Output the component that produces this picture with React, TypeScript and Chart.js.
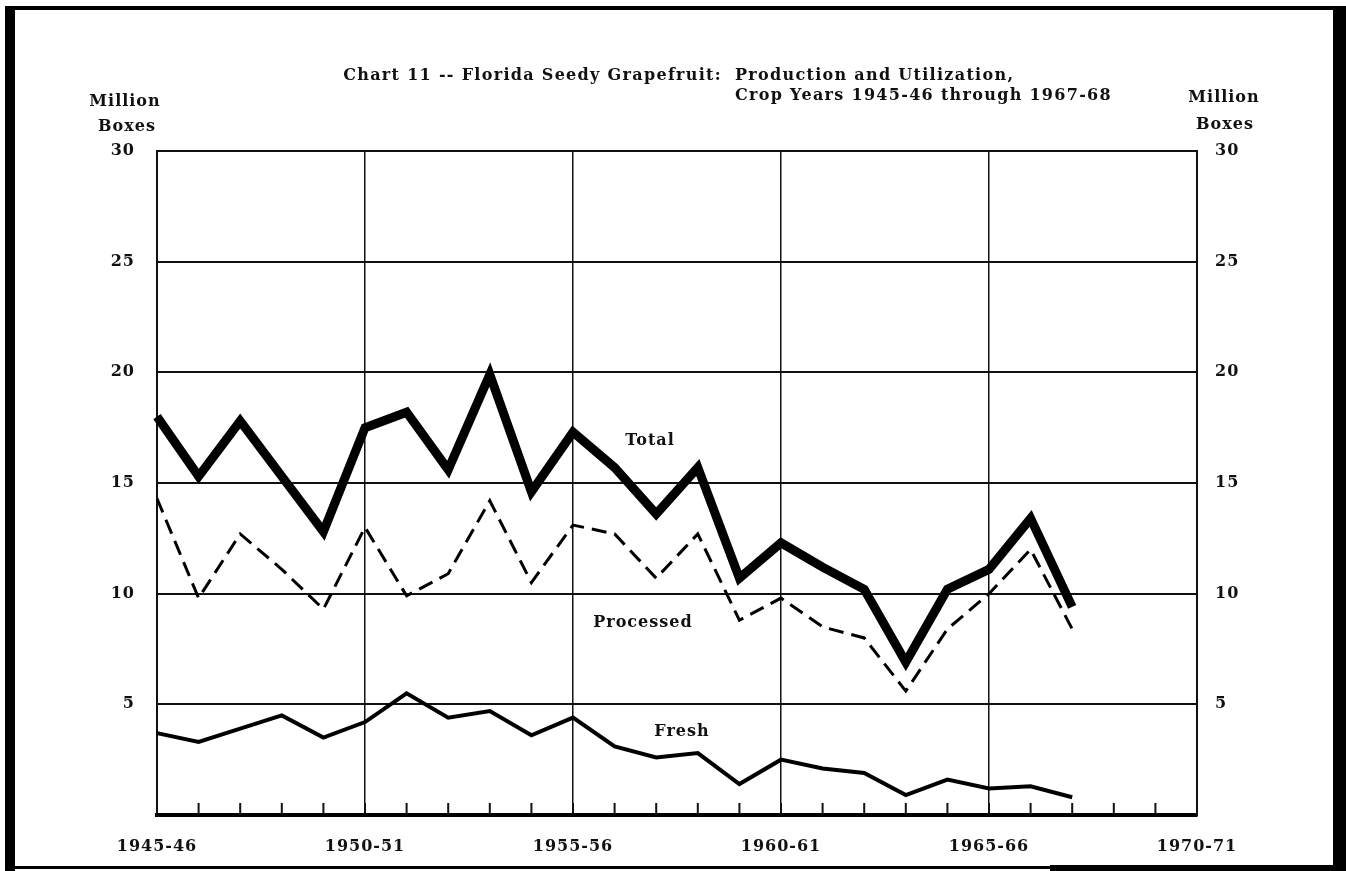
import { useEffect, useRef } from 'react';
import { Chart, registerables } from 'chart.js';

Chart.register(...registerables);

const FONT = '"DejaVu Serif", "Liberation Serif", serif';

const years = [
  '1945-46', '1946-47', '1947-48', '1948-49', '1949-50',
  '1950-51', '1951-52', '1952-53', '1953-54', '1954-55',
  '1955-56', '1956-57', '1957-58', '1958-59', '1959-60',
  '1960-61', '1961-62', '1962-63', '1963-64', '1964-65',
  '1965-66', '1966-67', '1967-68', '1968-69', '1969-70',
  '1970-71',
];

const totalValues = [18.0, 15.3, 17.8, 15.3, 12.8, 17.5, 18.2, 15.6, 19.9, 14.6, 17.3, 15.7, 13.6, 15.7, 10.7, 12.3, 11.2, 10.2, 6.9, 10.2, 11.1, 13.4, 9.4];
const processedValues = [14.3, 9.8, 12.7, 11.1, 9.3, 13.0, 9.9, 10.9, 14.2, 10.5, 13.1, 12.7, 10.7, 12.7, 8.8, 9.8, 8.5, 8.0, 5.6, 8.4, 10.0, 12.0, 8.4];
const freshValues = [3.7, 3.3, 3.9, 4.5, 3.5, 4.2, 5.5, 4.4, 4.7, 3.6, 4.4, 3.1, 2.6, 2.8, 1.4, 2.5, 2.1, 1.9, 0.9, 1.6, 1.2, 1.3, 0.8];

const yTicks = [5, 10, 15, 20, 25, 30];

const titleLine1a = 'Chart 11 -- Florida Seedy Grapefruit:';
const titleLine1b = 'Production and Utilization,';
const titleLine2 = 'Crop Years 1945-46 through 1967-68';

const seriesLabels = [
  { text: 'Total', x: 11.85, y: 16.9 },
  { text: 'Processed', x: 11.68, y: 8.68 },
  { text: 'Fresh', x: 12.62, y: 3.75 },
];

const INK = '#111';

export default function App() {
  const ref = useRef<HTMLCanvasElement>(null);

  useEffect(() => {
    const canvas = ref.current!;

    const spacingPlugin = {
      id: 'spacing',
      beforeDraw(chart: any) {
        chart.ctx.letterSpacing = '1px';
      },
    };

    const decorPlugin = {
      id: 'decor',
      afterDraw(chart: any) {
        const ctx = chart.ctx as CanvasRenderingContext2D;
        const xs = chart.scales.x;
        const ys = chart.scales.y;
        const area = chart.chartArea;
        ctx.save();
        // inner tick marks
        ctx.strokeStyle = INK;
        ctx.lineWidth = 2;
        for (let i = 0; i < years.length; i++) {
          const px = xs.getPixelForValue(i);
          ctx.beginPath();
          ctx.moveTo(px, area.bottom);
          ctx.lineTo(px, area.bottom - 12);
          ctx.stroke();
        }
        // texts
        ctx.fillStyle = INK;
        (ctx as any).letterSpacing = '1.3px';
        ctx.font = `bold 16px ${FONT}`;
        ctx.textBaseline = 'middle';
        ctx.textAlign = 'right';
        ctx.fillText(titleLine1a, 722, 76);
        ctx.textAlign = 'left';
        ctx.fillText(titleLine1b, 735, 76);
        ctx.fillText(titleLine2, 735, 96);
        (ctx as any).letterSpacing = '1px';
        ctx.textAlign = 'center';
        ctx.fillText('Million', 125, 102);
        ctx.fillText('Boxes', 127, 127);
        ctx.fillText('Million', 1224, 98);
        ctx.fillText('Boxes', 1225, 125);
        for (const l of seriesLabels) {
          ctx.fillText(l.text, xs.getPixelForValue(l.x), ys.getPixelForValue(l.y));
        }
        // frame
        ctx.fillStyle = '#000';
        ctx.fillRect(5, 6, 10, 865);
        ctx.fillRect(5, 6, 1341, 4);
        ctx.fillRect(1333, 6, 13, 865);
        ctx.fillRect(5, 866, 1341, 3);
        ctx.fillRect(1050, 865, 296, 6);
        ctx.restore();
      },
    };

    const tickFont = { family: FONT, size: 16, weight: 'bold' };

    const chart = new Chart(canvas, {
      type: 'line',
      data: {
        labels: years,
        datasets: [
          {
            label: 'Total',
            data: totalValues,
            borderColor: '#000',
            borderWidth: 9,
            pointRadius: 0,
            tension: 0,
            borderJoinStyle: 'miter',
            fill: false,
          },
          {
            label: 'Processed',
            data: processedValues,
            borderColor: '#000',
            borderWidth: 3,
            borderDash: [15, 8],
            pointRadius: 0,
            tension: 0,
            fill: false,
          },
          {
            label: 'Fresh',
            data: freshValues,
            borderColor: '#000',
            borderWidth: 4,
            pointRadius: 0,
            tension: 0,
            borderJoinStyle: 'miter',
            fill: false,
          },
        ],
      },
      options: {
        responsive: false,
        animation: false,
        devicePixelRatio: 1,
        layout: { padding: { top: 151, left: 0, right: 0, bottom: 0 } },
        plugins: {
          legend: { display: false },
          tooltip: { enabled: false },
          title: { display: false },
        },
        scales: {
          x: {
            type: 'category',
            offset: false,
            grid: {
              color: (c: any) => (c.index % 5 === 0 ? INK : 'rgba(0,0,0,0)'),
              lineWidth: 1.5,
              drawTicks: false,
            },
            border: { display: true, color: '#000', width: 4 },
            ticks: {
              autoSkip: false,
              maxRotation: 0,
              minRotation: 0,
              padding: 22,
              font: tickFont,
              color: INK,
              callback: (_v: any, i: number) => (i % 5 === 0 ? years[i] : ''),
            },
            afterFit: (s: any) => { s.height = 56; },
          },
          y: {
            position: 'left',
            min: 0,
            max: 30,
            afterBuildTicks: (s: any) => { s.ticks = [0, ...yTicks].map((v) => ({ value: v })); },
            ticks: {
              padding: 22,
              font: tickFont,
              color: INK,
              callback: (v: any) => (v === 0 ? '' : String(v)),
            },
            grid: { color: INK, lineWidth: 2, drawTicks: false },
            border: { color: INK, width: 2 },
            afterFit: (s: any) => { s.width = 157; },
          },
          y2: {
            position: 'right',
            min: 0,
            max: 30,
            afterBuildTicks: (s: any) => { s.ticks = [0, ...yTicks].map((v) => ({ value: v })); },
            ticks: {
              padding: 18,
              font: tickFont,
              color: INK,
              callback: (v: any) => (v === 0 ? '' : String(v)),
            },
            grid: { display: false, drawTicks: false },
            border: { color: INK, width: 2 },
            afterFit: (s: any) => { s.width = 149; },
          },
        },
      },
      plugins: [spacingPlugin, decorPlugin],
    } as any);

    return () => chart.destroy();
  }, []);

  return (
    <div style={{ position: 'fixed', left: 0, top: 0, width: 1346, height: 871, background: '#fff' }}>
      <canvas ref={ref} width={1346} height={871} />
    </div>
  );
}
